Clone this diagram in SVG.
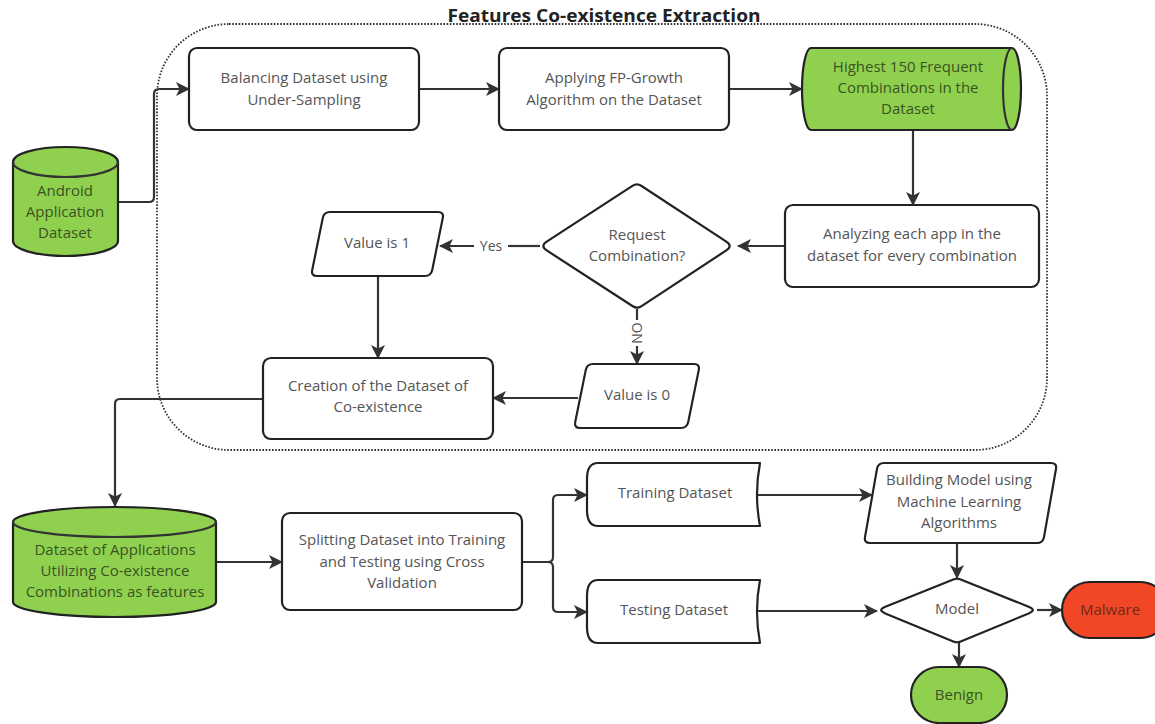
<svg xmlns="http://www.w3.org/2000/svg" width="1155" height="724" viewBox="0 0 1155 724">
<defs>
<style>
.box{fill:#fff;stroke:#222;stroke-width:2.2;stroke-linejoin:round}
.green{fill:#8fd14f;stroke:#222;stroke-width:2.2;stroke-linejoin:round}
.red{fill:#f24726;stroke:#222;stroke-width:2.2}
.conn{fill:none;stroke:#333;stroke-width:2.2}
.t{font-family:"Open Sans","Liberation Sans",sans-serif;font-size:15px;fill:#555;text-anchor:middle}
.tg{fill:#3b5323}
.tr{fill:#6e2a1c}
.lbl{font-family:"Open Sans","Liberation Sans",sans-serif;font-size:14px;fill:#555;text-anchor:middle}
</style>
<marker id="arr" viewBox="0 0 14 14" markerWidth="14" markerHeight="14" refX="13" refY="7" orient="auto" markerUnits="userSpaceOnUse">
<path d="M0,0 L14,7 L0,14 L3.5,7 Z" fill="#333"/>
</marker>
</defs>
<rect width="1155" height="724" fill="#fff"/>

<g id="container">
<rect x="157" y="24" width="890" height="426" rx="72" fill="none" stroke="#333" stroke-width="1.8" stroke-dasharray="1.6 1.6"/>
<text x="604" y="22" font-family="Open Sans,Liberation Sans,sans-serif" font-size="18" font-weight="bold" fill="#222" text-anchor="middle" textLength="313" lengthAdjust="spacingAndGlyphs">Features Co-existence Extraction</text>
</g>

<g id="connectors">
<path class="conn" d="M118,202 L149,202 Q154,202 154,197 L154,94 Q154,89 159,89 L189,89" marker-end="url(#arr)"/>
<path class="conn" d="M419,89 L499,89" marker-end="url(#arr)"/>
<path class="conn" d="M729,89 L802,89" marker-end="url(#arr)"/>
<path class="conn" d="M913,130 L913,205" marker-end="url(#arr)"/>
<path class="conn" d="M785,246 L738,246" marker-end="url(#arr)"/>
<path class="conn" d="M540,246 L508,246"/>
<path class="conn" d="M474,246 L440,246" marker-end="url(#arr)"/>
<text class="lbl" x="491" y="251">Yes</text>
<path class="conn" d="M378,276 L378,358" marker-end="url(#arr)"/>
<path class="conn" d="M637,309 L637,320"/>
<path class="conn" d="M637,346 L637,364" marker-end="url(#arr)"/>
<text class="lbl" x="0" y="0" transform="translate(642,333) rotate(-90)">NO</text>
<path class="conn" d="M578,398 L493,398" marker-end="url(#arr)"/>
<path class="conn" d="M263,399 L120,399 Q115,399 115,404 L115,506" marker-end="url(#arr)"/>
<path class="conn" d="M216,562 L282,562" marker-end="url(#arr)"/>
<path class="conn" d="M522,562 L548,562 Q553,562 553,557 L553,500 Q553,495 558,495 L587,495" marker-end="url(#arr)"/>
<path class="conn" d="M548,562 Q553,562 553,567 L553,607 Q553,612 558,612 L587,612" marker-end="url(#arr)"/>
<path class="conn" d="M756,495 L872,495" marker-end="url(#arr)"/>
<path class="conn" d="M756,611 L877,611" marker-end="url(#arr)"/>
<path class="conn" d="M957,543 L957,578" marker-end="url(#arr)"/>
<path class="conn" d="M1037,610 L1062,610" marker-end="url(#arr)"/>
<path class="conn" d="M959,643 L959,667" marker-end="url(#arr)"/>
</g>

<g id="android">
<path class="green" d="M13,162 A52.5,15 0 0 1 118,162 L118,241 A52.5,15 0 0 1 13,241 Z"/>
<path class="conn" stroke="#222" d="M13,162 A52.5,15 0 0 0 118,162"/>
<text class="t tg" x="65" y="196">Android</text>
<text class="t tg" x="65" y="217">Application</text>
<text class="t tg" x="65" y="238">Dataset</text>
</g>

<g id="balancing">
<rect class="box" x="189" y="48" width="230" height="82" rx="8"/>
<text class="t" x="304" y="83">Balancing Dataset using</text>
<text class="t" x="304" y="105">Under-Sampling</text>
</g>

<g id="fpgrowth">
<rect class="box" x="499" y="48" width="230" height="82" rx="8"/>
<text class="t" x="614" y="83">Applying FP-Growth</text>
<text class="t" x="614" y="105">Algorithm on the Dataset</text>
</g>

<g id="highest">
<path class="green" d="M811,48 L1012,48 A9,41 0 0 1 1012,130 L811,130 A9,41 0 0 1 811,48 Z"/>
<path class="conn" stroke="#222" d="M1012,48 A9,41 0 0 0 1012,130"/>
<text class="t tg" x="908" y="72">Highest 150 Frequent</text>
<text class="t tg" x="908" y="93">Combinations in the</text>
<text class="t tg" x="908" y="114">Dataset</text>
</g>

<g id="analyzing">
<rect class="box" x="785" y="205" width="254" height="82" rx="8"/>
<text class="t" x="912" y="239">Analyzing each app in the</text>
<text class="t" x="912" y="261">dataset for every combination</text>
</g>

<g id="request">
<path class="box" d="M546.7,241.6 L632.8,185.7 Q637,183 641.2,185.7 L726.3,241.6 Q733,246 726.3,250.4 L641.2,306.3 Q637,309 632.8,306.3 L546.7,250.4 Q540,246 546.7,241.6 Z"/>
<text class="t" x="637" y="240">Request</text>
<text class="t" x="637" y="261">Combination?</text>
</g>

<g id="value1">
<path class="box" d="M330,212 L438,212 Q444,212 442.8,217.9 L432.2,270.1 Q431,276 425,276 L317,276 Q311,276 312.2,270.1 L322.8,217.9 Q324,212 330,212 Z"/>
<text class="t" x="377" y="248">Value is 1</text>
</g>

<g id="value0">
<path class="box" d="M593,364 L694,364 Q700,364 698.8,369.9 L688.2,422.1 Q687,428 681,428 L580,428 Q574,428 575.2,422.1 L585.8,369.9 Q587,364 593,364 Z"/>
<text class="t" x="637" y="400">Value is 0</text>
</g>

<g id="creation">
<rect class="box" x="263" y="358" width="230" height="81" rx="8"/>
<text class="t" x="378" y="391">Creation of the Dataset of</text>
<text class="t" x="378" y="412">Co-existence</text>
</g>

<g id="coexdataset">
<path class="green" d="M13,522 A101.5,15 0 0 1 216,522 L216,602 A101.5,15 0 0 1 13,602 Z"/>
<path class="conn" stroke="#222" d="M13,522 A101.5,15 0 0 0 216,522"/>
<text class="t tg" x="115" y="555">Dataset of Applications</text>
<text class="t tg" x="115" y="576">Utilizing Co-existence</text>
<text class="t tg" x="115" y="597">Combinations as features</text>
</g>

<g id="splitting">
<rect class="box" x="282" y="513" width="240" height="97" rx="8"/>
<text class="t" x="402" y="545">Splitting Dataset into Training</text>
<text class="t" x="402" y="567">and Testing using Cross</text>
<text class="t" x="402" y="588">Validation</text>
</g>

<g id="training">
<path class="box" d="M598,463 L760,463 Q754,494.5 760,526 L598,526 Q587,526 587,510 L587,479 Q587,463 598,463 Z"/>
<text class="t" x="675" y="498">Training Dataset</text>
</g>

<g id="testing">
<path class="box" d="M598,580 L760,580 Q754,611.5 760,643 L598,643 Q587,643 587,627 L587,596 Q587,580 598,580 Z"/>
<text class="t" x="674" y="615">Testing Dataset</text>
</g>

<g id="building">
<path class="box" d="M884,463 L1051,463 Q1057,463 1056,468.9 L1044,537.1 Q1043,543 1037,543 L870,543 Q864,543 865,537.1 L877,468.9 Q878,463 884,463 Z"/>
<text class="t" x="959" y="485">Building Model using</text>
<text class="t" x="959" y="507">Machine Learning</text>
<text class="t" x="959" y="528">Algorithms</text>
</g>

<g id="model">
<path class="box" d="M885.4,606.7 L953.3,579.5 Q957,578 960.7,579.5 L1028.6,606.7 Q1037,610 1028.7,613.4 L960.7,641.5 Q957,643 953.3,641.5 L885.3,613.4 Q877,610 885.4,606.7 Z"/>
<text class="t" x="957" y="614">Model</text>
</g>

<g id="malware">
<rect class="red" x="1062" y="582" width="106" height="56" rx="28"/>
<text class="t tr" x="1110" y="615">Malware</text>
</g>

<g id="benign">
<rect class="green" x="911" y="667" width="96" height="56" rx="28"/>
<text class="t tg" x="959" y="700">Benign</text>
</g>
</svg>
